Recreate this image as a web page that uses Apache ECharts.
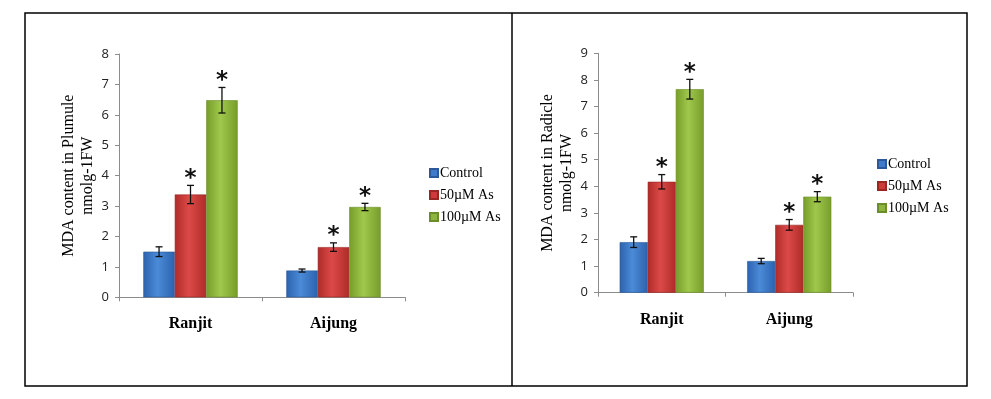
<!DOCTYPE html>
<html>
<head>
<meta charset="utf-8">
<script src="https://cdn.jsdelivr.net/npm/echarts@6/dist/echarts.min.js"></script>
<style>
  html, body { margin: 0; padding: 0; background: #fff; }
  #main { width: 991px; height: 399px; }
</style>
</head>
<body>
<div id="main"></div>
<script>
// chart data
var categories = ['Ranjit', 'Aijung'];
var seriesNames = ['Control', '50µM As', '100µM As'];
var yTicksPlumule = [0, 8, 1];   // min, max, interval
var yTicksRadicle = [0, 9, 1];

// plumule (left chart)
var plumuleControl = [1.5, 0.88];
var plumuleAs50 = [3.38, 1.65];
var plumuleAs100 = [6.48, 2.97];
var plumuleErrControl = [0.16, 0.05];
var plumuleErrAs50 = [0.3, 0.14];
var plumuleErrAs100 = [0.42, 0.12];

// radicle (right chart)
var radicleControl = [1.9, 1.19];
var radicleAs50 = [4.17, 2.55];
var radicleAs100 = [7.65, 3.61];
var radicleErrControl = [0.2, 0.1];
var radicleErrAs50 = [0.27, 0.2];
var radicleErrAs100 = [0.37, 0.19];

// significance star (1 = *) per series
var starControl = [0, 0];
var starAs50 = [1, 1];
var starAs100 = [1, 1];

var catGap = 0.34;
var serif = '"Liberation Serif", "Times New Roman", serif';

function barColor(edge, mid) {
    return new echarts.graphic.LinearGradient(0, 0, 1, 0, [
        { offset: 0, color: edge },
        { offset: 0.45, color: mid },
        { offset: 1, color: edge }
    ]);
}
var colors = [
    barColor('#2c62ad', '#4b8bd8'),
    barColor('#ae2b29', '#dc4a47'),
    barColor('#779d2a', '#9fc84c')
];
var legendColors = ['#3d7cc9', '#cc3b39', '#8db53d'];
var borderColors = ['#2a5a9c', '#9a2624', '#6b8e25'];

function errorItem(i) {
    return function (params, api) {
        var cat = api.value(0);
        var val = api.value(1);
        var err = api.value(2);
        var star = api.value(3);
        var band = api.size([1, 0])[0];
        var bw = band * (1 - catGap) / 3;
        var p = api.coord([cat, val]);
        var x = p[0] + (i - 1) * bw;
        var top = api.coord([cat, val + err])[1];
        var bot = api.coord([cat, val - err])[1];
        var cap = 3.5;
        var st = { stroke: '#111', lineWidth: 1.3 };
        var children = [
            { type: 'line', shape: { x1: x, y1: top, x2: x, y2: bot }, style: st },
            { type: 'line', shape: { x1: x - cap, y1: top, x2: x + cap, y2: top }, style: st },
            { type: 'line', shape: { x1: x - cap, y1: bot, x2: x + cap, y2: bot }, style: st }
        ];
        if (star) {
            children.push({
                type: 'text',
                style: {
                    text: '*', x: x, y: top - 18,
                    align: 'center', verticalAlign: 'top',
                    font: 'bold 23px "DejaVu Sans", sans-serif', fill: '#111'
                }
            });
        }
        return { type: 'group', children: children };
    };
}

function buildSeries(idx, values, errs, stars) {
    var out = [];
    for (var i = 0; i < 3; i++) {
        out.push({
            name: seriesNames[i],
            type: 'bar',
            xAxisIndex: idx, yAxisIndex: idx,
            barGap: 0,
            barCategoryGap: (catGap * 100) + '%',
            itemStyle: { color: colors[i], borderColor: borderColors[i], borderWidth: 0.6 },
            data: values[i]
        });
    }
    for (var j = 0; j < 3; j++) {
        var d = [];
        for (var k = 0; k < categories.length; k++) {
            d.push([k, values[j][k], errs[j][k], stars[j][k]]);
        }
        out.push({
            type: 'custom',
            xAxisIndex: idx, yAxisIndex: idx,
            renderItem: errorItem(j),
            encode: { x: 0, y: 1 },
            z: 5,
            silent: true,
            data: d
        });
    }
    return out;
}

function xAxis(grid) {
    return {
        type: 'category', gridIndex: grid, data: categories,
        axisLine: { lineStyle: { color: '#8c8c8c', width: 1 } },
        axisTick: { show: true, length: 4, lineStyle: { color: '#8c8c8c' } },
        axisLabel: { fontFamily: serif, fontWeight: 'bold', fontSize: 16, color: '#000', margin: 19 }
    };
}
function yAxis(grid, ticks, name) {
    return {
        type: 'value', gridIndex: grid,
        min: ticks[0], max: ticks[1], interval: ticks[2],
        name: name, nameLocation: 'middle', nameRotate: 90, nameGap: 22,
        nameTextStyle: { fontFamily: serif, fontSize: 16, color: '#000', lineHeight: 19 },
        axisLine: { show: true, lineStyle: { color: '#8c8c8c', width: 1 } },
        axisTick: { show: true, length: 4, lineStyle: { color: '#8c8c8c' } },
        axisLabel: { fontFamily: '"Open Sans", sans-serif', fontSize: 13, color: '#222', margin: 10 },
        splitLine: { show: false }
    };
}
function legend(left, top) {
    return {
        orient: 'vertical', left: left, top: top,
        icon: 'rect', itemWidth: 8, itemHeight: 8, itemGap: 8,
        data: seriesNames.map(function (n, i) {
            return { name: n, itemStyle: { color: legendColors[i] } };
        }),
        textStyle: { fontFamily: serif, fontSize: 14, color: '#000', padding: [0, 0, 0, -3] },
        selectedMode: false
    };
}

var chart = echarts.init(document.getElementById('main'));
var option = {
    animation: false,
    backgroundColor: '#fff',
    legend: [legend(424, 161), legend(872, 152)],
    grid: [
        { left: 119, top: 54, width: 286, height: 243.3 },
        { left: 598, top: 53.3, width: 255, height: 239.4 }
    ],
    xAxis: [xAxis(0), xAxis(1)],
    yAxis: [
        yAxis(0, yTicksPlumule, 'MDA content in Plumule\nnmolg-1FW'),
        yAxis(1, yTicksRadicle, 'MDA content in Radicle\nnmolg-1FW')
    ],
    graphic: [
        { type: 'rect', shape: { x: 25, y: 13, width: 942, height: 373 },
          style: { fill: 'none', stroke: '#000', lineWidth: 1.5 } },
        { type: 'line', shape: { x1: 512, y1: 13, x2: 512, y2: 386 },
          style: { stroke: '#000', lineWidth: 1.5 } }
    ],
    series: buildSeries(0, [plumuleControl, plumuleAs50, plumuleAs100],
                           [plumuleErrControl, plumuleErrAs50, plumuleErrAs100],
                           [starControl, starAs50, starAs100])
        .concat(buildSeries(1, [radicleControl, radicleAs50, radicleAs100],
                               [radicleErrControl, radicleErrAs50, radicleErrAs100],
                               [starControl, starAs50, starAs100]))
};
chart.setOption(option);
</script>
</body>
</html>
